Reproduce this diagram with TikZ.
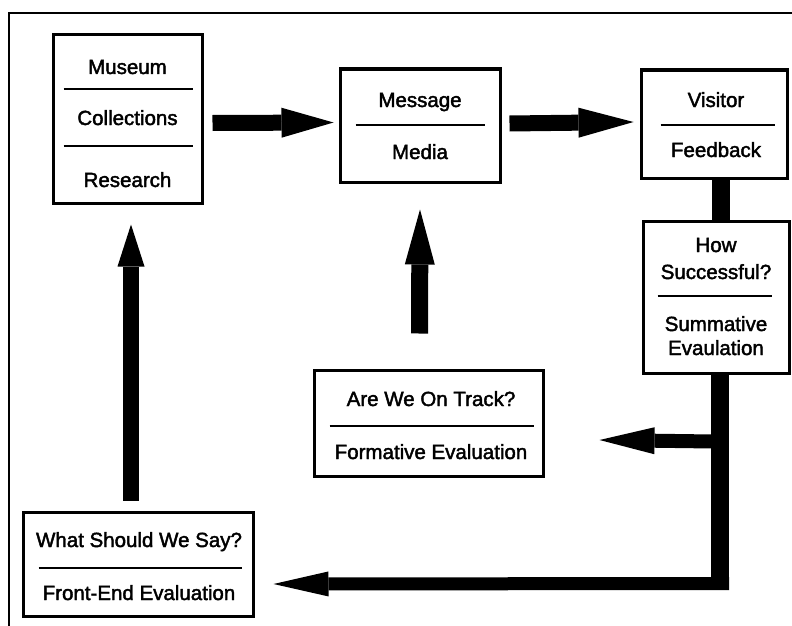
\documentclass[tikz,border=0pt]{standalone}
\usepackage{fontspec}
\setmainfont{Liberation Sans}
\newfontfamily\boxfont{Liberation Sans}[FakeBold=2]
\usetikzlibrary{arrows.meta,calc}

\tikzset{
  stagebox/.style={draw, line width=3pt, rectangle, inner sep=0pt},
  label/.style={inner sep=0pt, anchor=base, font=\boxfont\fontsize{20.5}{24}\selectfont},
  divider/.style={line width=2pt},
  flow/.style={line width=#1},
  bighead/.style 2 args={-{Triangle[length=#1, width=#2, line width=0pt]}},
}

\begin{document}
\begin{tikzpicture}[x=1pt, y=-1pt]
\useasboundingbox (0,0) rectangle (792,626);

% outer frame (only left and top edges fall inside the page)
\draw[line width=2pt] (9,640) -- (9,13) -- (800,13);

% stage boxes
\node[stagebox, minimum width=149pt, minimum height=168pt] (mus) at (127.5,119) {};
\node[stagebox, minimum width=160pt, minimum height=113pt] (msg) at (420,125.5) {};
\node[stagebox, minimum width=146pt, minimum height=108pt] (vis) at (714,124) {};
\node[stagebox, minimum width=146pt, minimum height=152pt] (how) at (716,297) {};
\node[stagebox, minimum width=229pt, minimum height=106pt] (trk) at (428.5,423) {};
\node[stagebox, minimum width=230pt, minimum height=104pt] (say) at (138,564) {};

% texts
\node[label] (t1) at (127.5,74) {Museum};
\node[label] (t2) at (127.5,125) {Collections};
\node[label] (t3) at (127.5,187) {Research};
\node[label] (t4) at (420,107) {Message};
\node[label] (t5) at (420,159) {Media};
\node[label] (t6) at (716,107) {Visitor};
\node[label] (t7) at (716,157) {Feedback};
\node[label] (t8) at (716,252) {How};
\node[label] (t9) at (716,279) {Successful?};
\node[label] (t10) at (716,331) {Summative};
\node[label] (t11) at (716,355) {Evaulation};
\node[label] (t12) at (431,406) {Are We On Track?};
\node[label] (t13) at (431,459) {Formative Evaluation};
\node[label] (t14) at (139,547) {What Should We Say?};
\node[label] (t15) at (139,600) {Front-End Evaluation};

% dividers inside boxes
\draw[divider] ($(mus.north west)+(12,55)$) -- ($(mus.north east)+(-11,55)$);
\draw[divider] ($(mus.north west)+(12,112)$) -- ($(mus.north east)+(-11,112)$);
\draw[divider] ($(msg.north west)+(17,57)$) -- ($(msg.north east)+(-17,57)$);
\draw[divider] ($(vis.north west)+(21,56)$) -- ($(vis.north east)+(-14,56)$);
\draw[divider] ($(how.north west)+(16,76)$) -- ($(how.north east)+(-19,76)$);
\draw[divider] ($(trk.north west)+(17,57)$) -- ($(trk.north east)+(-11,57)$);
\draw[divider] ($(say.north west)+(17,57)$) -- ($(say.north east)+(-13,57)$);

% forward flow
\draw[flow=16pt, bighead={52pt}{30pt}] ($(mus.east)+(9,4)$) -- ($(msg.west)+(-5,-3)$);
\draw[flow=16pt, bighead={55pt}{30pt}] ($(msg.east)+(8,-2)$) -- ($(vis.west)+(-6,-2)$);
\draw[flow=18pt] ($(vis.south)+(7,0)$) -- ($(how.north)+(5,0)$);

% feedback loop from summative evaluation
\coordinate (corner) at (720,590);
\draw[flow=18pt] ($(how.south)+(4,0)$) -- (corner);
\draw[flow=13pt, bighead={55pt}{25pt}] ($(corner)+(9,-6.5)$) -- ($(say.east)+(19,20)$);
\draw[flow=14pt, bighead={55pt}{27pt}] ($(how.south)+(-3,67)$) -- ($(trk.east)+(55,17)$);

% upward arrows into the first two stages
\draw[flow=17pt, bighead={55pt}{30pt}] ($(trk.north)+(-9,-35)$) -- ($(msg.south)+(0,26)$);
\draw[flow=16pt, bighead={42pt}{27pt}] ($(say.north)+(-7,-10)$) -- ($(mus.south)+(3.5,20)$);
\end{tikzpicture}
\end{document}
